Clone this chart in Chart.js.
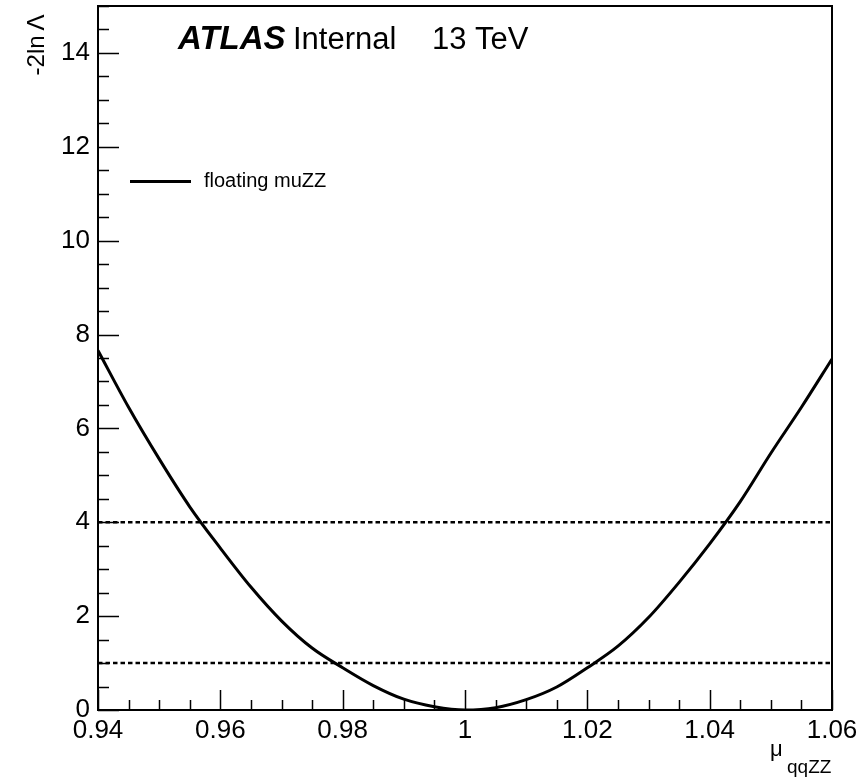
<!DOCTYPE html>
<html>
<head>
<meta charset="utf-8">
<script src="https://cdn.jsdelivr.net/npm/chart.js@4/dist/chart.umd.min.js"></script>
<style>
  html, body { margin: 0; padding: 0; background: #fff; }
  #wrap { width: 867px; height: 780px; }
</style>
</head>
<body>
<div id="wrap"><canvas id="c" width="867" height="780"></canvas></div>
<script>
// ---- data ----
const muValues  = [0.940, 0.945, 0.950, 0.955, 0.960, 0.965, 0.970, 0.975, 0.980, 0.985, 0.990, 0.995,
                   1.000, 1.005, 1.010, 1.015, 1.020, 1.025, 1.030, 1.035, 1.040, 1.045, 1.050, 1.055, 1.060];
const nllValues = [7.66, 6.45, 5.35, 4.33, 3.45, 2.62, 1.90, 1.32, 0.90, 0.52, 0.23, 0.07,
                   0.00, 0.05, 0.22, 0.49, 0.90, 1.36, 1.97, 2.72, 3.54, 4.44, 5.47, 6.45, 7.48];
const thresholds = [1, 4];
const xTickValues = [0.94, 0.96, 0.98, 1.00, 1.02, 1.04, 1.06];
const xTickLabels = ["0.94", "0.96", "0.98", "1", "1.02", "1.04", "1.06"];
const yTickValues = [0, 2, 4, 6, 8, 10, 12, 14];
const yTickLabels = ["0", "2", "4", "6", "8", "10", "12", "14"];
const xRange = [0.94, 1.06];
const yRange = [0, 15];
const seriesName = "floating muZZ";

const FONT = '"Liberation Sans", Arial, Helvetica, sans-serif';

const curve = muValues.map((x, i) => ({ x: x, y: nllValues[i] }));
const dashSets = thresholds.map(t => ({
  data: [{ x: xRange[0], y: t }, { x: xRange[1], y: t }],
  showLine: true, borderColor: '#000', borderWidth: 2.6, borderDash: [4.5, 3],
  pointRadius: 0, fill: false
}));

const decor = {
  id: 'decor',
  afterDraw(chart) {
    const ctx = chart.ctx, a = chart.chartArea;
    const xs = chart.scales.x, ys = chart.scales.y;
    ctx.save();
    ctx.strokeStyle = '#000';
    // ticks (inward, ROOT style)
    ctx.lineWidth = 1.5;
    ctx.beginPath();
    for (let k = 0; k <= 24; k++) {
      const v = xRange[0] + k * 0.005;
      const px = Math.round(xs.getPixelForValue(v)) + 0.5;
      const len = (k % 4 === 0) ? 20 : 10;
      ctx.moveTo(px, a.bottom); ctx.lineTo(px, a.bottom - len);
    }
    for (let k = 0; k <= 30; k++) {
      const v = yRange[0] + k * 0.5;
      const py = Math.round(ys.getPixelForValue(v)) + 0.5;
      const len = (k % 4 === 0) ? 21 : 11;
      ctx.moveTo(a.left, py); ctx.lineTo(a.left + len, py);
    }
    ctx.stroke();
    // frame
    ctx.lineWidth = 2;
    ctx.strokeRect(a.left, a.top, a.right - a.left, a.bottom - a.top);

    // title
    ctx.fillStyle = '#000';
    ctx.textBaseline = 'alphabetic';
    ctx.textAlign = 'left';
    ctx.font = 'italic bold 33px ' + FONT;
    ctx.fillText('ATLAS', 178, 49);
    ctx.font = '31px ' + FONT;
    ctx.fillText('Internal', 293, 49);
    ctx.fillText('13 TeV', 432, 49);

    // legend
    ctx.lineWidth = 3;
    ctx.beginPath();
    ctx.moveTo(130, 181.5); ctx.lineTo(191, 181.5);
    ctx.stroke();
    ctx.font = '20px ' + FONT;
    ctx.textBaseline = 'middle';
    ctx.fillText(seriesName, 204, 181);

    // y axis title
    ctx.save();
    ctx.translate(44, 45);
    ctx.rotate(-Math.PI / 2);
    ctx.textAlign = 'center';
    ctx.textBaseline = 'alphabetic';
    ctx.font = '24px ' + FONT;
    ctx.fillText('-2ln\u2009\u039B', 0, 0);
    ctx.restore();

    // x axis title
    ctx.textAlign = 'left';
    ctx.textBaseline = 'alphabetic';
    ctx.font = '22px ' + FONT;
    ctx.fillText('\u03BC', 770, 756);
    ctx.font = '19px ' + FONT;
    ctx.fillText('qqZZ', 787, 773);
    ctx.restore();
  }
};

new Chart(document.getElementById('c'), {
  type: 'scatter',
  data: {
    datasets: [
      { label: seriesName, data: curve, showLine: true, borderColor: '#000', borderWidth: 3,
        pointRadius: 0, cubicInterpolationMode: 'monotone', fill: false },
      ...dashSets
    ]
  },
  options: {
    responsive: false,
    animation: false,
    devicePixelRatio: 1,
    layout: { padding: { top: 6, right: 35, left: 0, bottom: 0 } },
    plugins: { legend: { display: false }, tooltip: { enabled: false } },
    scales: {
      x: {
        type: 'linear', min: xRange[0], max: xRange[1],
        grid: { display: false, drawTicks: false },
        border: { display: false },
        afterBuildTicks: s => { s.ticks = xTickValues.map(v => ({ value: v })); },
        afterFit: s => { s.height = 70; s.paddingLeft = 0; s.paddingRight = 0; },
        ticks: {
          autoSkip: false, maxRotation: 0, color: '#000', padding: 5,
          font: { family: FONT, size: 26 },
          callback: (v, i) => xTickLabels[i]
        }
      },
      y: {
        type: 'linear', min: yRange[0], max: yRange[1],
        grid: { display: false, drawTicks: false },
        border: { display: false },
        afterBuildTicks: s => { s.ticks = yTickValues.map(v => ({ value: v })); },
        afterFit: s => { s.width = 98; s.paddingTop = 0; s.paddingBottom = 0; },
        ticks: {
          autoSkip: false, color: '#000', padding: 8,
          font: { family: FONT, size: 26 },
          callback: (v, i) => yTickLabels[i]
        }
      }
    }
  },
  plugins: [decor]
});
</script>
</body>
</html>
